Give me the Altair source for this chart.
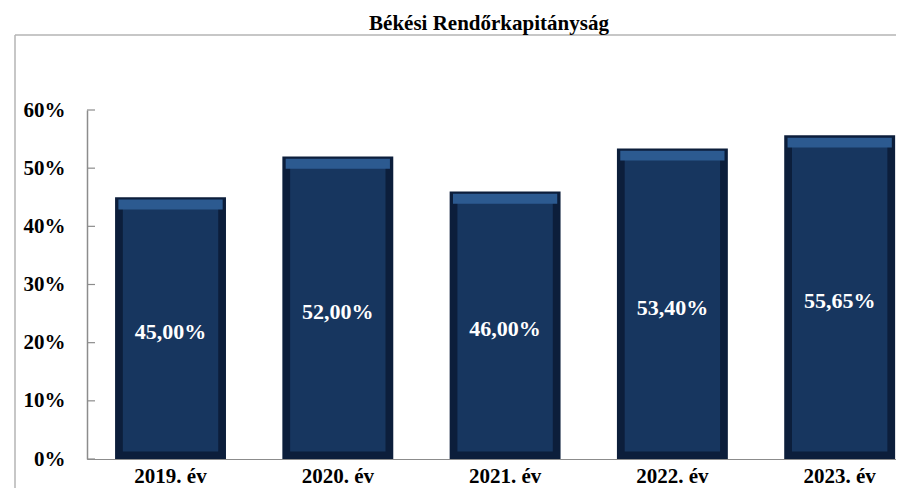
import altair as alt
import pandas as pd

# ---- data ----
years = ["2019. év", "2020. év", "2021. év", "2022. év", "2023. év"]
values = [45.00, 52.00, 46.00, 53.40, 55.65]
y_ticks = [0, 10, 20, 30, 40, 50, 60]
title_text = ["Békési Rendőrkapitányság"]

df = pd.DataFrame({"year": years, "value": values})
ticks_df = pd.DataFrame({"t": y_ticks})
title_df = pd.DataFrame({"t": title_text})

FONT = "Liberation Serif"
AXIS_GREY = "#8c8c8c"
FRAME_GREY = "#b4b4b4"

W, H = 809, 349

xscale = alt.Scale(paddingInner=0.337, paddingOuter=0.0865, align=0.97)
yscale = alt.Scale(domain=[0, 60], nice=False)

xaxis = alt.Axis(title=None, ticks=False, tickSize=0, labelAngle=0, labelPadding=6,
                 domainColor=AXIS_GREY, domainWidth=1.2, labelFont=FONT, labelFontSize=21,
                 labelFontWeight="bold", labelColor="black", grid=False)
yaxis = alt.Axis(title=None, values=y_ticks, labelExpr="datum.value + '%'", ticks=False,
                 tickSize=0, labelPadding=22, domainColor=AXIS_GREY, domainWidth=1.5,
                 grid=False, labelFont=FONT, labelFontSize=21, labelFontWeight="bold",
                 labelColor="black")

xenc = alt.X("year:N", sort=years, scale=xscale, axis=xaxis)

base = alt.Chart(df)

outer = base.mark_bar(color="#0c1e3b").encode(
    x=xenc, y=alt.Y("value:Q", scale=yscale, axis=yaxis)
)

inner = base.transform_calculate(
    top="datum.value - 1.7", bot="1.3"
).mark_bar(color="#17365f", width=alt.RelativeBandSize(0.86)).encode(
    x=xenc, y=alt.Y("top:Q", scale=yscale, axis=yaxis), y2="bot:Q"
)

strip = base.transform_calculate(
    t="datum.value - 0.4", b="datum.value - 2.1"
).mark_bar(color="#2c5a90", width=alt.RelativeBandSize(0.94)).encode(
    x=xenc, y=alt.Y("t:Q", scale=yscale, axis=yaxis), y2="b:Q"
)

labels = base.transform_calculate(
    mid="datum.value / 2",
    lab="replace(format(datum.value, '.2f'), '.', ',') + '%'",
).mark_text(color="white", font=FONT, fontSize=22, fontWeight="bold", dy=4).encode(
    x=xenc, y=alt.Y("mid:Q", scale=yscale, axis=yaxis), text="lab:N"
)

tick_marks = alt.Chart(ticks_df).mark_rule(color=AXIS_GREY, strokeWidth=1.2).encode(
    y=alt.Y("t:Q", scale=yscale, axis=yaxis), x=alt.value(0), x2=alt.value(8)
)

title = alt.Chart(title_df).mark_text(
    font=FONT, fontSize=21, fontWeight="bold", color="black", baseline="alphabetic"
).encode(text="t:N", x=alt.value(402), y=alt.value(-80))

frame_v = alt.Chart(title_df).mark_rule(color=FRAME_GREY, strokeWidth=1.5).encode(
    x=alt.value(-72), y=alt.value(-75), y2=alt.value(378)
)
frame_h = alt.Chart(title_df).mark_rule(color=FRAME_GREY, strokeWidth=1.5).encode(
    x=alt.value(-72), x2=alt.value(W), y=alt.value(-75)
)

chart = alt.layer(
    frame_v, frame_h, title, outer, inner, strip, labels, tick_marks
).properties(
    width=W, height=H,
    padding={"left": 79, "top": 102, "right": 0, "bottom": 29},
    autosize=alt.AutoSizeParams(type="none"),
    background="white",
).configure_view(stroke=None)

chart.save("out.html", embed_options={"renderer": "svg", "actions": False})
